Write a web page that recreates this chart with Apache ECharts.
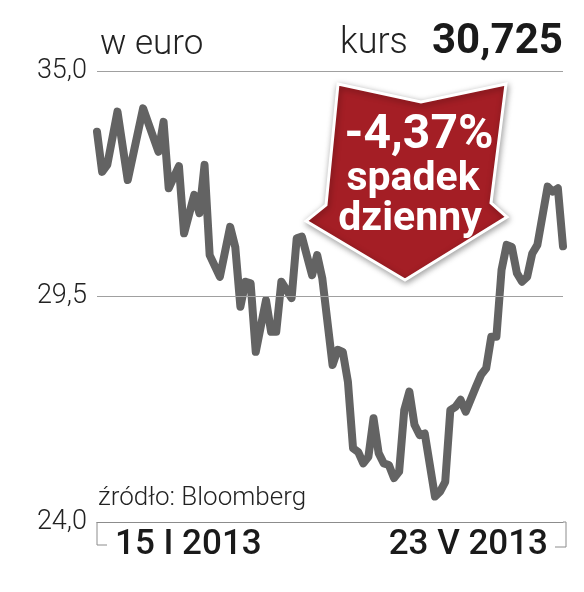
<!DOCTYPE html>
<html>
<head>
<meta charset="utf-8">
<script src="https://cdn.jsdelivr.net/npm/echarts@6/dist/echarts.min.js"></script>
<style>
  html, body { margin: 0; padding: 0; background: #ffffff; }
  #chart { width: 584px; height: 592px; }
</style>
</head>
<body>
<div id="chart"></div>
<script>
// trading session index (0 = 15 I 2013, 91 = 23 V 2013)
var sessions = [0,1,2,4,6,9,12,13,14,16,17,19,20,21,22,24,26,27,28,29,30,31,33,34,35,36,38,39,40,42,43,44,46,47,48,49,50,51,52,53,54,55,56,57,58,59,60,61,62,63,64,66,67,68,69,70,71,72,74,75,76,77,78,79,80,81,82,83,84,85,86,88,89,90,91];
// share price in euro
var prices = [33.52,32.54,32.71,34.01,32.34,34.09,33.03,33.76,32.14,32.68,31.04,31.98,31.53,32.71,30.51,29.98,31.20,30.71,29.25,29.86,29.82,28.15,29.41,28.64,28.64,29.86,29.46,30.92,30.96,30.02,30.51,29.94,27.83,28.20,28.15,27.42,25.80,25.71,25.43,25.59,26.53,25.68,25.43,25.39,25.07,25.23,26.73,27.18,26.37,26.12,26.16,24.62,24.74,24.98,26.73,26.81,26.98,26.69,27.30,27.59,27.75,28.52,28.52,30.15,30.76,30.71,30.07,29.86,29.98,30.55,30.76,32.18,32.06,32.14,30.725];
var yTicks = [24, 29.5, 35];
var xTicks = [0, 91];
var xTickLabels = ['15 I 2013', '23 V 2013'];
var unitLabel = 'w euro';
var kursLabel = 'kurs';
var kursValue = '30,725';
var changeLabel = ['-4,37%', 'spadek', 'dzienny'];
var sourceLabel = 'źródło: Bloomberg';

var chart = echarts.init(document.getElementById('chart'), null, { renderer: 'canvas' });
var lineData = sessions.map(function (s, i) { return [s, prices[i]]; });
var FONT = 'Roboto';

var option = {
  backgroundColor: '#ffffff',
  animation: false,
  grid: { left: 97, right: 21, top: 71, bottom: 70 },
  xAxis: {
    type: 'value', min: 0, max: 91,
    splitLine: { show: false },
    axisTick: { show: false },
    axisLine: { show: true, lineStyle: { color: '#8c8c8c', width: 1 } },
    axisLabel: {
      customValues: xTicks,
      alignMinLabel: 'left',
      alignMaxLabel: 'right',
      margin: 6,
      fontFamily: FONT, fontSize: 35, fontWeight: 500, color: '#1a1a1a',
      padding: [0, 15, 0, 18],
      formatter: function (v) { return v === xTicks[0] ? xTickLabels[0] : xTickLabels[1]; }
    }
  },
  yAxis: {
    type: 'value', min: 24, max: 35,
    splitLine: { show: false },
    axisLine: { show: false },
    axisTick: { show: false },
    axisLabel: {
      customValues: yTicks,
      margin: 10,
      fontFamily: FONT, fontSize: 27, fontWeight: 300, color: '#222',
      formatter: function (v) { return v.toFixed(1).replace('.', ','); }
    }
  },
  series: [{
    type: 'line',
    data: lineData,
    symbol: 'none',
    lineStyle: { color: '#636363', width: 8, join: 'round', cap: 'round' },
    markLine: {
      silent: true, symbol: 'none', animation: false,
      label: { show: false },
      lineStyle: { color: '#a0a0a0', width: 1, type: 'solid' },
      data: [{ yAxis: yTicks[1] }, { yAxis: yTicks[2] }]
    },
    z: 2
  }],
  graphic: [
    { type: 'polyline', shape: { points: [[97, 522], [97, 545], [107, 545]] }, style: { stroke: '#8c8c8c', lineWidth: 1, fill: null } },
    { type: 'polyline', shape: { points: [[566, 522], [566, 547], [555, 547]] }, style: { stroke: '#8c8c8c', lineWidth: 1, fill: null } },
    { type: 'line', shape: { x1: 563, y1: 522, x2: 566, y2: 522 }, style: { stroke: '#8c8c8c', lineWidth: 1 } },
    { type: 'text', left: 100, top: 28, style: { text: unitLabel, fontFamily: FONT, fontSize: 35, fontWeight: 300, fill: '#222' } },
    { type: 'text', left: 340, top: 26, style: { text: kursLabel, fontFamily: FONT, fontSize: 36, fontWeight: 300, fill: '#222' } },
    { type: 'text', left: 432, top: 21, style: { text: kursValue, fontFamily: FONT, fontSize: 42, fontWeight: 'bold', fill: '#1a1a1a' } },
    { type: 'text', left: 98, top: 485, style: { text: sourceLabel, fontFamily: FONT, fontSize: 26, fontWeight: 300, fill: '#222' } },
    {
      type: 'polygon', z: 10,
      shape: { points: [[338, 84], [421, 102], [506, 84], [491, 203], [507, 217], [405, 280], [306, 221], [326, 205]] },
      style: { fill: '#a41e25', stroke: '#ffffff', lineWidth: 3, lineJoin: 'miter', shadowBlur: 6, shadowColor: 'rgba(0,0,0,0.35)', shadowOffsetX: 1, shadowOffsetY: 2 }
    },
    { type: 'text', z: 11, x: 419, y: 136, style: { text: changeLabel[0], align: 'center', verticalAlign: 'middle', fontFamily: FONT, fontSize: 48, fontWeight: 'bold', fill: '#ffffff' } },
    { type: 'text', z: 11, x: 413, y: 180, style: { text: changeLabel[1], align: 'center', verticalAlign: 'middle', fontFamily: FONT, fontSize: 41, fontWeight: 'bold', fill: '#ffffff' } },
    { type: 'text', z: 11, x: 410, y: 220, style: { text: changeLabel[2], align: 'center', verticalAlign: 'middle', fontFamily: FONT, fontSize: 41, fontWeight: 'bold', fill: '#ffffff' } }
  ]
};
chart.setOption(option);
</script>
</body>
</html>
